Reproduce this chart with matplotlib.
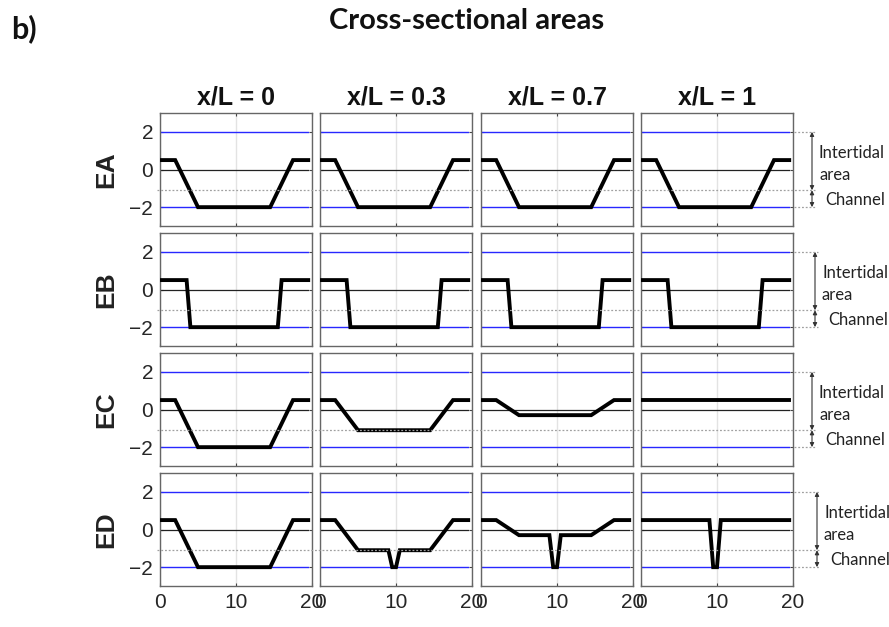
import numpy as np
import matplotlib
matplotlib.use("Agg")
import matplotlib.pyplot as plt
from matplotlib.lines import Line2D
from matplotlib.patches import FancyArrowPatch
from matplotlib.transforms import blended_transform_factory

# ---------------- data ----------------
columns = ["x/L = 0", "x/L = 0.3", "x/L = 0.7", "x/L = 1"]
rows = ["EA", "EB", "EC", "ED"]

# bed profiles: (cross-channel position, bed level) per row / column
EA_x = [0, 2, 5, 14.5, 17.5, 19.5]
EA_z = [0.5, 0.5, -2, -2, 0.5, 0.5]

EB_x = [0, 3.5, 4, 15.5, 16, 19.5]
EB_z = [0.5, 0.5, -2, -2, 0.5, 0.5]

EC_x = [0, 2, 5, 14.5, 17.5, 19.5]
EC0_z = [0.5, 0.5, -2, -2, 0.5, 0.5]
EC3_z = [0.5, 0.5, -1.1, -1.1, 0.5, 0.5]
EC7_z = [0.5, 0.5, -0.3, -0.3, 0.5, 0.5]
EC1_x = [0, 19.5]
EC1_z = [0.5, 0.5]

ED0_x = [0, 2, 5, 14.5, 17.5, 19.5]
ED0_z = [0.5, 0.5, -2, -2, 0.5, 0.5]
ED_x = [0, 2, 5, 9, 9.5, 10, 10.5, 14.5, 17.5, 19.5]
ED3_z = [0.5, 0.5, -1.1, -1.1, -2, -2, -1.1, -1.1, 0.5, 0.5]
ED7_z = [0.5, 0.5, -0.3, -0.3, -2, -2, -0.3, -0.3, 0.5, 0.5]
ED1_x = [0, 9, 9.5, 10, 10.5, 19.5]
ED1_z = [0.5, 0.5, -2, -2, 0.5, 0.5]

profiles = [
    [(EA_x, EA_z)] * 4,
    [(EB_x, EB_z)] * 4,
    [(EC_x, EC0_z), (EC_x, EC3_z), (EC_x, EC7_z), (EC1_x, EC1_z)],
    [(ED0_x, ED0_z), (ED_x, ED3_z), (ED_x, ED7_z), (ED1_x, ED1_z)],
]

high_water = 2
low_water = -2
mean_level = 0
channel_top = -1.1

x_ticks = [0, 10, 20]
y_ticks = [-2, 0, 2]

# ---------------- layout ----------------
W, H = 889, 627
fig = plt.figure(figsize=(W / 100, H / 100), dpi=100)

col_left = [160, 320, 481, 641]
row_top = [113, 233, 353, 473]
aw, ah = 152, 113
arrow_px = [812, 815, 812, 817]

def fx(px):
    return px / W

def fy(py):
    return 1 - py / H

arial = ["Liberation Sans", "DejaVu Sans"]
calib = ["Lato", "DejaVu Sans"]

axes = []
for r in range(4):
    for c in range(4):
        ax = fig.add_axes([fx(col_left[c]), fy(row_top[r] + ah), aw / W, ah / H])
        xs, zs = profiles[r][c]
        x0, x1 = min(xs), max(xs)
        ax.set_xlim(0, 20)
        ax.set_ylim(-3, 3)
        ax.set_xticks(x_ticks)
        ax.set_yticks(y_ticks)
        ax.grid(axis="x", color="#e3e3e3", lw=1.0, zorder=0)
        ax.plot([x0, x1], [high_water, high_water], color="#2828ff", lw=1.0, zorder=2)
        ax.plot([x0, x1], [low_water, low_water], color="#2828ff", lw=1.0, zorder=2)
        ax.plot([x0, x1], [mean_level, mean_level], color="#222222", lw=0.9, zorder=2)
        ax.plot(xs, zs, color="black", lw=2.8, zorder=3, solid_joinstyle="miter")
        ax.tick_params(direction="in", length=2.5, width=0.8, top=True, right=True,
                       colors="#444444", labelcolor="#262626", labelsize=15, pad=5)
        for lab in ax.get_xticklabels() + ax.get_yticklabels():
            lab.set_family(arial)
        for s in ax.spines.values():
            s.set_color("#666666")
            s.set_linewidth(1.0)
        if c != 0:
            ax.set_yticklabels([])
        if r != 3:
            ax.set_xticklabels([])
        if r == 0:
            ax.set_title(columns[c], fontsize=18, fontweight="bold", family=arial,
                         pad=6, color="#111111")
        if c == 0:
            ax.set_ylabel(rows[r], fontsize=19, fontweight="bold", family=arial,
                          labelpad=8, color="#222222")
        axes.append(ax)

    # dotted guide lines and annotation for the row
    ax_first = axes[r * 4]
    tr = blended_transform_factory(fig.transFigure, ax_first.transData)
    xa = arrow_px[r]
    fig.add_artist(Line2D([fx(157), fx(xa + 3)], [channel_top, channel_top], transform=tr,
                          color="#a0a0a0", lw=0.9, ls=(0, (1.5, 1.5))))
    for yv in (high_water, low_water):
        fig.add_artist(Line2D([fx(col_left[3] + aw + 1), fx(xa + 3)], [yv, yv], transform=tr,
                              color="#a0a0a0", lw=0.9, ls=(0, (1.5, 1.5))))
    for (ya, yb) in ((high_water, channel_top), (channel_top, low_water)):
        fig.add_artist(FancyArrowPatch(
            (fx(xa), ya), (fx(xa), yb), transform=tr,
            arrowstyle="<|-|>", mutation_scale=6, color="#333333", lw=0.8,
            shrinkA=0, shrinkB=0))
    fig.text(fx(xa + 7), 0.3, "Intertidal\narea", transform=tr, fontsize=12,
             family=calib, va="center", ha="left", linespacing=1.45, color="#222222")
    fig.text(fx(xa + 13), -1.62, "Channel", transform=tr, fontsize=12,
             family=calib, va="center", ha="left", color="#222222")

fig.text(fx(467), fy(21), "Cross-sectional areas", fontsize=21, fontweight="bold",
         family=calib, ha="center", va="center", color="#111111")
fig.text(fx(11), fy(29), "b)", fontsize=22, fontweight="bold",
         family=calib, ha="left", va="center", color="#111111")

fig.savefig("out.png", dpi=100)
